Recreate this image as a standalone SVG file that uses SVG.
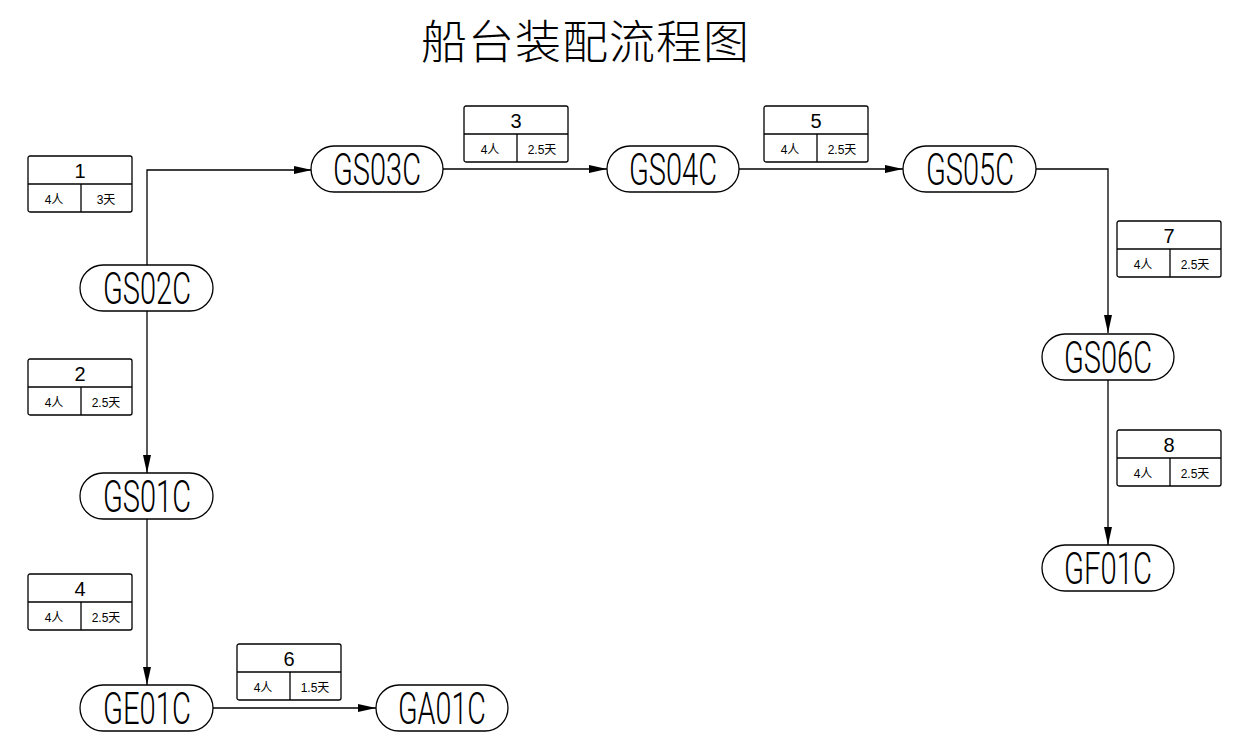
<svg xmlns="http://www.w3.org/2000/svg" width="1247" height="756" viewBox="0 0 1247 756">
<style>
.pill{fill:#fff;stroke:#000;stroke-width:1.3}
.pt{font-family:"Roboto","Liberation Sans",sans-serif;font-weight:300;font-size:44px;text-anchor:middle;fill:#000}
.box{fill:#fff;stroke:#000;stroke-width:1.3}
.dv{stroke:#000;stroke-width:1.3}
.num{font-family:"Liberation Sans",sans-serif;font-size:20px;text-anchor:middle;fill:#000}
.sm{font-family:"Liberation Sans","Noto Sans CJK SC",sans-serif;font-size:12px;text-anchor:middle;fill:#000}
.ln{fill:none;stroke:#000;stroke-width:1.3}
.title{font-family:"Noto Sans CJK SC",sans-serif;font-weight:300;font-size:46px;text-anchor:middle;fill:#000}
</style>
<defs>
<marker id="ah" markerWidth="18" markerHeight="8" refX="18" refY="4" orient="auto" markerUnits="userSpaceOnUse">
<path d="M0,0 L18,4 L0,8 Z" fill="#000"/>
</marker>
<g id="lbl">
<rect x="0" y="0" width="104" height="56" rx="2" class="box"/>
<line x1="0" y1="28" x2="104" y2="28" class="dv"/>
<line x1="53" y1="28" x2="53" y2="56" class="dv"/>
</g>
</defs>
<rect width="1247" height="756" fill="#fff"/>
<text x="585" y="58" class="title" textLength="328" lengthAdjust="spacing">船台装配流程图</text>

<g id="connectors">
<path d="M147,266 V170 H312" class="ln" marker-end="url(#ah)"/>
<path d="M147,310 V473" class="ln" marker-end="url(#ah)"/>
<path d="M147,519 V685" class="ln" marker-end="url(#ah)"/>
<path d="M213,708 H376" class="ln" marker-end="url(#ah)"/>
<path d="M443,169 H607" class="ln" marker-end="url(#ah)"/>
<path d="M739,169 H903" class="ln" marker-end="url(#ah)"/>
<path d="M1036,169 H1108 V333" class="ln" marker-end="url(#ah)"/>
<path d="M1108,380 V545" class="ln" marker-end="url(#ah)"/>
</g>

<g id="GS02C"><rect x="80" y="265" width="133" height="46" rx="23" class="pill"/><text x="147" y="304" class="pt" textLength="88" lengthAdjust="spacingAndGlyphs">GS02C</text></g>
<g id="GS01C"><rect x="80" y="473" width="133" height="46" rx="23" class="pill"/><text x="147" y="512" class="pt" textLength="88" lengthAdjust="spacingAndGlyphs">GS01C</text></g>
<g id="GE01C"><rect x="80" y="685" width="133" height="46" rx="23" class="pill"/><text x="147" y="724" class="pt" textLength="88" lengthAdjust="spacingAndGlyphs">GE01C</text></g>
<g id="GA01C"><rect x="376" y="685" width="132" height="46" rx="23" class="pill"/><text x="442" y="724" class="pt" textLength="88" lengthAdjust="spacingAndGlyphs">GA01C</text></g>
<g id="GS03C"><rect x="311" y="146" width="132" height="46" rx="23" class="pill"/><text x="377" y="185" class="pt" textLength="88" lengthAdjust="spacingAndGlyphs">GS03C</text></g>
<g id="GS04C"><rect x="607" y="146" width="132" height="46" rx="23" class="pill"/><text x="673" y="185" class="pt" textLength="88" lengthAdjust="spacingAndGlyphs">GS04C</text></g>
<g id="GS05C"><rect x="903" y="146" width="133" height="46" rx="23" class="pill"/><text x="970" y="185" class="pt" textLength="88" lengthAdjust="spacingAndGlyphs">GS05C</text></g>
<g id="GS06C"><rect x="1042" y="334" width="132" height="46" rx="23" class="pill"/><text x="1108" y="373" class="pt" textLength="88" lengthAdjust="spacingAndGlyphs">GS06C</text></g>
<g id="GF01C"><rect x="1042" y="545" width="132" height="46" rx="23" class="pill"/><text x="1108" y="584" class="pt" textLength="88" lengthAdjust="spacingAndGlyphs">GF01C</text></g>

<g id="label1" transform="translate(28,156)"><use href="#lbl"/><text x="52" y="22" class="num">1</text><text x="26" y="48" class="sm">4人</text><text x="78" y="48" class="sm">3天</text></g>
<g id="label2" transform="translate(28,359)"><use href="#lbl"/><text x="52" y="22" class="num">2</text><text x="26" y="48" class="sm">4人</text><text x="78" y="48" class="sm">2.5天</text></g>
<g id="label4" transform="translate(28,574)"><use href="#lbl"/><text x="52" y="22" class="num">4</text><text x="26" y="48" class="sm">4人</text><text x="78" y="48" class="sm">2.5天</text></g>
<g id="label6" transform="translate(237,644)"><use href="#lbl"/><text x="52" y="22" class="num">6</text><text x="26" y="48" class="sm">4人</text><text x="78" y="48" class="sm">1.5天</text></g>
<g id="label3" transform="translate(464,106)"><use href="#lbl"/><text x="52" y="22" class="num">3</text><text x="26" y="48" class="sm">4人</text><text x="78" y="48" class="sm">2.5天</text></g>
<g id="label5" transform="translate(764,106)"><use href="#lbl"/><text x="52" y="22" class="num">5</text><text x="26" y="48" class="sm">4人</text><text x="78" y="48" class="sm">2.5天</text></g>
<g id="label7" transform="translate(1117,221)"><use href="#lbl"/><text x="52" y="22" class="num">7</text><text x="26" y="48" class="sm">4人</text><text x="78" y="48" class="sm">2.5天</text></g>
<g id="label8" transform="translate(1117,430)"><use href="#lbl"/><text x="52" y="22" class="num">8</text><text x="26" y="48" class="sm">4人</text><text x="78" y="48" class="sm">2.5天</text></g>
</svg>
